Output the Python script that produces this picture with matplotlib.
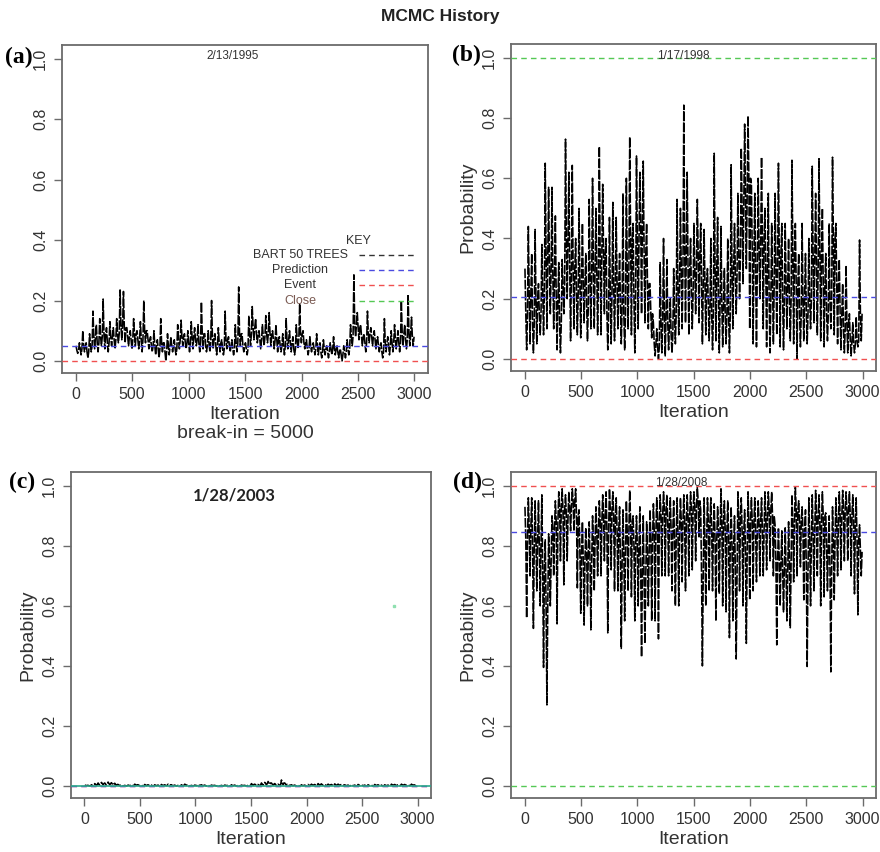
import numpy as np
import matplotlib
matplotlib.use("Agg")
import matplotlib.pyplot as plt

plt.rcParams['font.family'] = ['Liberation Sans', 'DejaVu Sans']

# ---------------- data (per 30-iteration bin: local high / core level / local low) ----------------
bin_width = 30
x_ticks = [0, 500, 1000, 1500, 2000, 2500, 3000]
y_ticks = [0.0, 0.2, 0.4, 0.6, 0.8, 1.0]
y_tick_labels = ["0.0", "0.2", "0.4", "0.6", "0.8", "1.0"]

a_hi = [0.05, 0.06, 0.10, 0.06, 0.09, 0.165, 0.12, 0.14, 0.205, 0.11,
        0.13, 0.11, 0.14, 0.235, 0.23, 0.11, 0.10, 0.14, 0.10, 0.13,
        0.20, 0.10, 0.08, 0.10, 0.07, 0.14, 0.06, 0.09, 0.08, 0.07,
        0.12, 0.135, 0.09, 0.10, 0.13, 0.11, 0.12, 0.195, 0.09, 0.10,
        0.20, 0.09, 0.11, 0.07, 0.165, 0.08, 0.07, 0.12, 0.245, 0.09,
        0.06, 0.15, 0.18, 0.14, 0.10, 0.12, 0.15, 0.16, 0.10, 0.12,
        0.08, 0.09, 0.14, 0.10, 0.08, 0.12, 0.19, 0.10, 0.07, 0.08,
        0.06, 0.09, 0.06, 0.07, 0.05, 0.06, 0.08, 0.05, 0.04, 0.05,
        0.07, 0.12, 0.285, 0.16, 0.12, 0.09, 0.165, 0.11, 0.10, 0.08,
        0.06, 0.14, 0.08, 0.10, 0.12, 0.10, 0.20, 0.12, 0.22, 0.145]
a_mid = [0.035, 0.04, 0.05, 0.03, 0.05, 0.08, 0.06, 0.08, 0.09, 0.06,
         0.08, 0.07, 0.09, 0.12, 0.11, 0.08, 0.07, 0.09, 0.07, 0.07,
         0.10, 0.07, 0.05, 0.05, 0.04, 0.06, 0.03, 0.05, 0.05, 0.04,
         0.07, 0.08, 0.06, 0.06, 0.08, 0.07, 0.06, 0.09, 0.05, 0.06,
         0.08, 0.05, 0.06, 0.04, 0.07, 0.05, 0.04, 0.06, 0.09, 0.05,
         0.04, 0.09, 0.11, 0.09, 0.07, 0.08, 0.09, 0.09, 0.07, 0.07,
         0.05, 0.05, 0.07, 0.06, 0.04, 0.07, 0.09, 0.06, 0.04, 0.05,
         0.04, 0.05, 0.03, 0.04, 0.03, 0.04, 0.04, 0.03, 0.02, 0.03,
         0.04, 0.08, 0.12, 0.11, 0.08, 0.06, 0.09, 0.08, 0.07, 0.05,
         0.03, 0.06, 0.05, 0.06, 0.07, 0.06, 0.09, 0.07, 0.09, 0.08]
a_lo = [0.025, 0.02, 0.03, 0.01, 0.03, 0.04, 0.03, 0.05, 0.04, 0.03,
        0.05, 0.04, 0.06, 0.07, 0.06, 0.05, 0.04, 0.05, 0.04, 0.03,
        0.06, 0.04, 0.03, 0.02, 0.01, 0.03, 0.00, 0.02, 0.03, 0.02,
        0.04, 0.05, 0.04, 0.03, 0.04, 0.05, 0.03, 0.04, 0.03, 0.03,
        0.04, 0.02, 0.03, 0.02, 0.04, 0.03, 0.02, 0.03, 0.05, 0.03,
        0.02, 0.05, 0.07, 0.06, 0.04, 0.05, 0.06, 0.05, 0.04, 0.03,
        0.03, 0.02, 0.04, 0.03, 0.02, 0.04, 0.06, 0.04, 0.02, 0.03,
        0.02, 0.02, 0.01, 0.02, 0.01, 0.02, 0.02, 0.01, 0.00, 0.01,
        0.02, 0.05, 0.08, 0.07, 0.05, 0.03, 0.06, 0.05, 0.04, 0.03,
        0.01, 0.03, 0.02, 0.03, 0.04, 0.03, 0.05, 0.04, 0.05, 0.05]

b_hi = [0.30, 0.44, 0.35, 0.43, 0.25, 0.38, 0.65, 0.57, 0.57, 0.475,
        0.32, 0.33, 0.73, 0.62, 0.643, 0.40, 0.50, 0.45, 0.35, 0.53,
        0.60, 0.50, 0.705, 0.58, 0.40, 0.47, 0.52, 0.47, 0.35, 0.55,
        0.60, 0.737, 0.45, 0.674, 0.62, 0.657, 0.45, 0.25, 0.12, 0.10,
        0.32, 0.40, 0.33, 0.20, 0.30, 0.53, 0.50, 0.843, 0.62, 0.40,
        0.45, 0.53, 0.45, 0.43, 0.30, 0.40, 0.683, 0.47, 0.44, 0.30,
        0.40, 0.645, 0.45, 0.55, 0.70, 0.78, 0.807, 0.58, 0.55, 0.60,
        0.67, 0.50, 0.55, 0.45, 0.55, 0.65, 0.45, 0.45, 0.40, 0.66,
        0.45, 0.35, 0.45, 0.35, 0.40, 0.64, 0.55, 0.665, 0.50, 0.35,
        0.45, 0.67, 0.45, 0.33, 0.25, 0.31, 0.15, 0.12, 0.14, 0.395]
b_mid = [0.15, 0.22, 0.12, 0.20, 0.15, 0.22, 0.35, 0.30, 0.28, 0.20,
         0.12, 0.25, 0.40, 0.30, 0.30, 0.22, 0.25, 0.25, 0.18, 0.28,
         0.30, 0.28, 0.35, 0.35, 0.15, 0.22, 0.25, 0.25, 0.18, 0.15,
         0.30, 0.40, 0.20, 0.40, 0.45, 0.35, 0.25, 0.15, 0.05, 0.04,
         0.12, 0.15, 0.12, 0.08, 0.15, 0.25, 0.30, 0.38, 0.30, 0.22,
         0.30, 0.35, 0.25, 0.25, 0.18, 0.15, 0.30, 0.20, 0.18, 0.15,
         0.15, 0.30, 0.28, 0.35, 0.50, 0.55, 0.60, 0.35, 0.30, 0.38,
         0.40, 0.30, 0.20, 0.25, 0.30, 0.35, 0.20, 0.25, 0.20, 0.35,
         0.25, 0.15, 0.20, 0.15, 0.20, 0.35, 0.30, 0.35, 0.25, 0.15,
         0.20, 0.40, 0.25, 0.15, 0.10, 0.12, 0.06, 0.05, 0.06, 0.15]
b_lo = [0.03, 0.05, 0.02, 0.05, 0.08, 0.08, 0.10, 0.15, 0.10, 0.03,
        0.02, 0.15, 0.20, 0.06, 0.10, 0.08, 0.07, 0.12, 0.06, 0.10,
        0.10, 0.08, 0.08, 0.15, 0.03, 0.05, 0.06, 0.10, 0.05, 0.03,
        0.10, 0.08, 0.02, 0.10, 0.15, 0.12, 0.10, 0.07, 0.01, 0.00,
        0.02, 0.01, 0.03, 0.02, 0.05, 0.08, 0.10, 0.12, 0.08, 0.10,
        0.15, 0.12, 0.05, 0.08, 0.06, 0.03, 0.06, 0.02, 0.04, 0.05,
        0.02, 0.10, 0.15, 0.20, 0.25, 0.30, 0.10, 0.05, 0.04, 0.20,
        0.10, 0.04, 0.02, 0.05, 0.08, 0.04, 0.03, 0.10, 0.06, 0.05,
        0.00, 0.04, 0.06, 0.05, 0.10, 0.12, 0.08, 0.06, 0.04, 0.06,
        0.10, 0.08, 0.05, 0.03, 0.02, 0.02, 0.01, 0.02, 0.04, 0.06]

c_hi = [0.003, 0.002, 0.004, 0.008, 0.010, 0.012, 0.010, 0.013, 0.011, 0.009,
        0.005, 0.003, 0.002, 0.003, 0.004, 0.006, 0.004, 0.003, 0.005, 0.004,
        0.003, 0.004, 0.003, 0.005, 0.004, 0.006, 0.004, 0.003, 0.002, 0.004,
        0.006, 0.003, 0.002, 0.003, 0.005, 0.004, 0.003, 0.002, 0.003, 0.002,
        0.003, 0.002, 0.003, 0.002, 0.004, 0.003, 0.002, 0.003, 0.002, 0.003,
        0.008, 0.006, 0.005, 0.010, 0.012, 0.015, 0.010, 0.008, 0.006, 0.020,
        0.010, 0.006, 0.004, 0.003, 0.002, 0.004, 0.003, 0.005, 0.006, 0.005,
        0.008, 0.007, 0.005, 0.006, 0.005, 0.007, 0.006, 0.005, 0.004, 0.003,
        0.004, 0.003, 0.005, 0.004, 0.003, 0.004, 0.003, 0.005, 0.004, 0.003,
        0.004, 0.003, 0.006, 0.005, 0.004, 0.006, 0.005, 0.004, 0.006, 0.003]
c_mid = [0.002, 0.001, 0.002, 0.005, 0.006, 0.008, 0.006, 0.008, 0.007, 0.005,
         0.003, 0.001, 0.001, 0.002, 0.002, 0.004, 0.002, 0.001, 0.003, 0.002,
         0.001, 0.002, 0.001, 0.003, 0.002, 0.004, 0.002, 0.001, 0.001, 0.002,
         0.004, 0.001, 0.001, 0.002, 0.003, 0.002, 0.001, 0.001, 0.002, 0.001,
         0.001, 0.001, 0.002, 0.001, 0.002, 0.001, 0.001, 0.002, 0.001, 0.002,
         0.005, 0.004, 0.003, 0.006, 0.008, 0.010, 0.006, 0.005, 0.004, 0.010,
         0.006, 0.003, 0.002, 0.001, 0.001, 0.002, 0.001, 0.003, 0.004, 0.003,
         0.005, 0.004, 0.003, 0.004, 0.003, 0.004, 0.004, 0.003, 0.002, 0.001,
         0.002, 0.001, 0.003, 0.002, 0.001, 0.002, 0.001, 0.003, 0.002, 0.001,
         0.002, 0.001, 0.004, 0.003, 0.002, 0.004, 0.003, 0.002, 0.004, 0.001]
c_lo = [0.001, 0.000, 0.001, 0.002, 0.003, 0.004, 0.003, 0.004, 0.003, 0.002,
        0.001, 0.000, 0.000, 0.001, 0.001, 0.002, 0.001, 0.000, 0.001, 0.001,
        0.000, 0.001, 0.000, 0.001, 0.001, 0.002, 0.001, 0.000, 0.000, 0.001,
        0.002, 0.000, 0.000, 0.001, 0.001, 0.001, 0.000, 0.000, 0.001, 0.000,
        0.000, 0.000, 0.001, 0.000, 0.001, 0.000, 0.000, 0.001, 0.000, 0.001,
        0.002, 0.002, 0.001, 0.003, 0.004, 0.005, 0.003, 0.002, 0.002, 0.004,
        0.002, 0.001, 0.001, 0.000, 0.000, 0.001, 0.000, 0.001, 0.002, 0.001,
        0.002, 0.002, 0.001, 0.002, 0.001, 0.002, 0.002, 0.001, 0.001, 0.000,
        0.001, 0.000, 0.001, 0.001, 0.000, 0.001, 0.000, 0.001, 0.001, 0.000,
        0.001, 0.000, 0.002, 0.001, 0.001, 0.002, 0.001, 0.001, 0.002, 0.000]
c_stray_x = [2790]
c_stray_y = [0.60]

d_hi = [0.93, 0.96, 0.96, 0.95, 0.95, 0.97, 0.82, 0.84, 0.90, 0.95,
        0.98, 0.99, 0.97, 0.98, 0.99, 0.99, 0.92, 0.88, 0.86, 0.88,
        0.90, 0.93, 0.95, 0.97, 0.98, 0.99, 0.98, 0.96, 0.93, 0.92,
        0.95, 0.985, 0.90, 0.90, 0.93, 0.90, 0.88, 0.92, 0.94, 0.96,
        0.97, 0.98, 0.97, 0.96, 0.95, 0.96, 0.96, 0.97, 0.97, 0.98,
        0.98, 0.995, 0.92, 0.96, 0.96, 0.96, 0.94, 0.93, 0.99, 0.95,
        0.95, 0.93, 0.90, 0.98, 0.96, 0.92, 0.98, 0.96, 0.96, 0.95,
        0.96, 0.98, 0.98, 0.98, 0.87, 0.86, 0.85, 0.86, 0.88, 0.97,
        0.995, 0.95, 0.93, 0.92, 0.96, 0.97, 0.985, 0.97, 0.98, 0.91,
        0.90, 0.93, 0.96, 0.98, 0.985, 0.98, 0.98, 0.97, 0.96, 0.87]
d_mid = [0.82, 0.86, 0.80, 0.82, 0.80, 0.72, 0.60, 0.75, 0.86, 0.88,
         0.93, 0.92, 0.90, 0.93, 0.95, 0.90, 0.78, 0.75, 0.78, 0.75,
         0.82, 0.85, 0.88, 0.90, 0.85, 0.92, 0.90, 0.85, 0.75, 0.78,
         0.85, 0.88, 0.80, 0.80, 0.72, 0.70, 0.78, 0.82, 0.85, 0.88,
         0.90, 0.92, 0.88, 0.85, 0.82, 0.85, 0.88, 0.88, 0.90, 0.92,
         0.93, 0.95, 0.70, 0.82, 0.88, 0.85, 0.82, 0.85, 0.88, 0.85,
         0.82, 0.80, 0.72, 0.90, 0.85, 0.78, 0.88, 0.88, 0.85, 0.88,
         0.85, 0.90, 0.92, 0.90, 0.75, 0.75, 0.72, 0.72, 0.75, 0.88,
         0.92, 0.88, 0.85, 0.72, 0.82, 0.85, 0.90, 0.88, 0.90, 0.80,
         0.72, 0.82, 0.88, 0.90, 0.92, 0.92, 0.90, 0.88, 0.82, 0.78]
d_lo = [0.56, 0.70, 0.525, 0.65, 0.60, 0.395, 0.27, 0.60, 0.70, 0.54,
        0.75, 0.67, 0.75, 0.85, 0.85, 0.66, 0.575, 0.536, 0.60, 0.52,
        0.65, 0.70, 0.70, 0.75, 0.51, 0.72, 0.65, 0.65, 0.458, 0.55,
        0.65, 0.63, 0.55, 0.60, 0.43, 0.475, 0.60, 0.55, 0.55, 0.49,
        0.70, 0.70, 0.70, 0.65, 0.60, 0.60, 0.68, 0.65, 0.70, 0.72,
        0.75, 0.83, 0.40, 0.60, 0.65, 0.65, 0.55, 0.64, 0.60, 0.58,
        0.494, 0.55, 0.423, 0.65, 0.60, 0.475, 0.62, 0.65, 0.68, 0.70,
        0.70, 0.72, 0.75, 0.70, 0.47, 0.60, 0.58, 0.55, 0.527, 0.68,
        0.70, 0.73, 0.62, 0.398, 0.60, 0.65, 0.70, 0.60, 0.63, 0.65,
        0.38, 0.62, 0.70, 0.72, 0.75, 0.75, 0.70, 0.64, 0.57, 0.70]

# reference lines (prediction / event / close levels)
a_pred, a_event = 0.05, 0.0
b_pred, b_event, b_close = 0.205, 0.0, 1.0
c_pred, c_event, c_close = 0.0, 0.0, 0.0
d_pred, d_event, d_close = 0.845, 1.0, 0.0

dates = {"a": "2/13/1995", "b": "1/17/1998", "c": "1/28/2003", "d": "1/28/2008"}

# ---------------- styling ----------------
FRAME = "#6b6b6b"
TXT = "#333333"
BLUE = "#4a4ae0"
RED = "#f05050"
GREEN = "#55c855"


def trace(hi, mid, lo):
    """Order the per-bin readings as high, core, low, core so the line sweeps the band."""
    hi, mid, lo = np.asarray(hi), np.asarray(mid), np.asarray(lo)
    n = len(hi)
    start = np.arange(n) * bin_width
    xs = np.empty(4 * n)
    ys = np.empty(4 * n)
    for k, (frac, vals) in enumerate([(0.125, hi), (0.375, mid), (0.625, lo), (0.875, mid)]):
        xs[k::4] = start + bin_width * frac
        ys[k::4] = vals
    return xs, ys


def style(ax, ylabel=True):
    ax.set_xlim(-120, 3120)
    ax.set_ylim(-0.04, 1.046)
    ax.set_xticks(x_ticks)
    ax.set_yticks(y_ticks)
    ax.set_yticklabels(y_tick_labels, rotation=90, va="center")
    ax.tick_params(axis="both", direction="out", length=6, width=1,
                   color=FRAME, labelcolor=TXT, labelsize=11.5, pad=4)
    for s in ax.spines.values():
        s.set_color(FRAME)
        s.set_linewidth(1.3)
    if ylabel:
        ax.set_ylabel("Probability", fontsize=14, color=TXT, labelpad=4)
    ax.set_xlabel("Iteration", fontsize=14, color=TXT, labelpad=3)


def hline(ax, y, color):
    ax.axhline(y, color=color, lw=1.0, ls=(0, (4, 3)), zorder=3)


fig = plt.figure(figsize=(8.8, 8.52), dpi=100)
fig.text(0.5, 0.981, "MCMC History", ha="center", va="center",
         fontsize=12.5, fontweight="bold", color="#222222")

ax_a = fig.add_axes([0.0705, 0.5622, 0.4159, 0.385])
ax_b = fig.add_axes([0.5807, 0.5646, 0.4148, 0.3838])
ax_c = fig.add_axes([0.0807, 0.0634, 0.4091, 0.3826])
ax_d = fig.add_axes([0.5807, 0.0634, 0.4148, 0.3826])

trace_kw = dict(color="black", lw=1.15, ls=(0, (6, 1)), zorder=2)

# (a)
xs, ys = trace(a_hi, a_mid, a_lo)
ax_a.plot(xs, ys, **trace_kw)
hline(ax_a, a_pred, BLUE)
hline(ax_a, a_event, RED)
style(ax_a, ylabel=False)
ax_a.set_xlabel("Iteration\nbreak-in = 5000", fontsize=14, color=TXT,
                labelpad=3, linespacing=1.15)
ax_a.text(1390, 1.01, dates["a"], ha="center", va="center", fontsize=8.5, color=TXT)
# key
key_labels = ["BART 50 TREES", "Prediction", "Event", "Close"]
key_colors = ["#333333", BLUE, RED, GREEN]
key_text_colors = ["#333333", "#333333", "#333333", "#7a5a52"]
key_y = [0.35, 0.30, 0.25, 0.20]
ax_a.text(2500, 0.397, "KEY", ha="center", va="center", fontsize=9, color=TXT)
for lab, col, tcol, yy in zip(key_labels, key_colors, key_text_colors, key_y):
    ax_a.plot([2510, 3010], [yy, yy], color=col, lw=1.0, ls=(0, (4, 3)), zorder=3)
    ax_a.text(1990, yy, lab, ha="center", va="center", fontsize=9, color=tcol)

# (b)
xs, ys = trace(b_hi, b_mid, b_lo)
ax_b.plot(xs, ys, **trace_kw)
hline(ax_b, b_close, GREEN)
hline(ax_b, b_pred, BLUE)
hline(ax_b, b_event, RED)
style(ax_b)
ax_b.text(1410, 1.005, dates["b"], ha="center", va="center", fontsize=8.5, color=TXT)

# (c)
xs, ys = trace(c_hi, c_mid, c_lo)
ax_c.plot(xs, ys, **trace_kw)
hline(ax_c, c_event, RED)
hline(ax_c, c_pred, BLUE)
ax_c.axhline(c_close, color="#2aa88a", lw=1.2, zorder=3)
ax_c.plot(c_stray_x, c_stray_y, marker="s", ms=1.5, color="#8fe0b0", lw=0)
style(ax_c)
ax_c.text(1350, 0.967, dates["c"], ha="center", va="center", fontsize=12,
          fontweight="bold", color="#222222", family=["Lato", "DejaVu Sans"])

# (d)
xs, ys = trace(d_hi, d_mid, d_lo)
ax_d.plot(xs, ys, **trace_kw)
hline(ax_d, d_event, RED)
hline(ax_d, d_pred, BLUE)
hline(ax_d, d_close, GREEN)
style(ax_d)
ax_d.text(1390, 1.008, dates["d"], ha="center", va="center", fontsize=8.5, color=TXT)

# panel letters
for lab, (px, py) in {"(a)": (0.021, 0.933), "(b)": (0.530, 0.935),
                      "(c)": (0.025, 0.434), "(d)": (0.531, 0.434)}.items():
    fig.text(px, py, lab, ha="center", va="center", fontsize=17,
             fontweight="bold", family=["Liberation Serif", "DejaVu Serif"])

fig.savefig("out.png", dpi=100)
